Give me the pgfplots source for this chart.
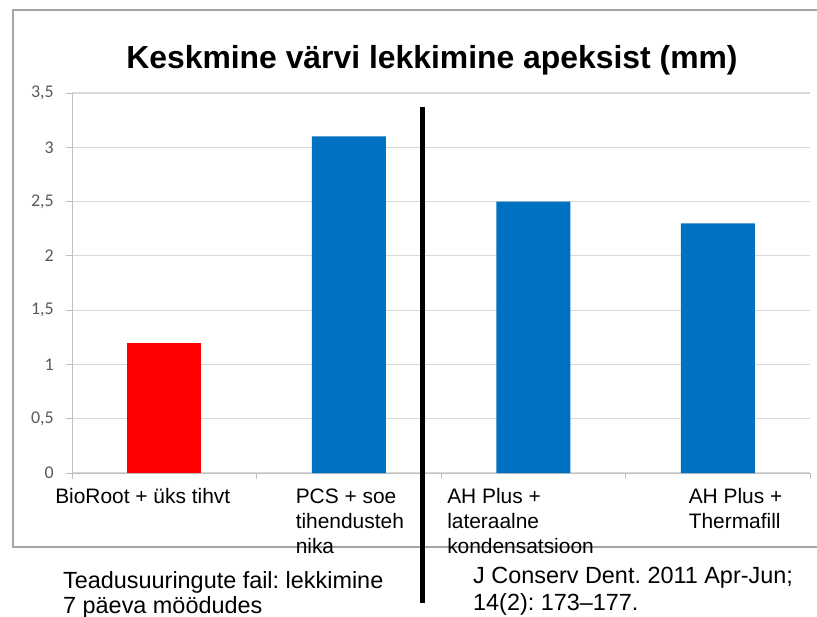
\documentclass[border=0pt]{standalone}
\usepackage{fontspec}
\setmainfont{Liberation Sans}
\newfontfamily\carlito{Carlito}
\usepackage{pgfplots}
\pgfplotsset{compat=1.18}
\frenchspacing
\definecolor{barblue}{HTML}{0070C0}
\definecolor{barred}{HTML}{FF0000}
\definecolor{gridgray}{HTML}{D9D9D9}
\definecolor{axisgray}{HTML}{BFBFBF}
\definecolor{ticktext}{HTML}{595959}
\definecolor{framegray}{HTML}{A6A6A6}
\newcommand{\lab}[2]{\rlap{\hspace*{#1}\begin{tabular}[t]{@{}l@{}}#2\end{tabular}}}
\begin{document}
\begin{tikzpicture}
\useasboundingbox (0,0) rectangle (817bp,-617bp);
\draw[framegray, line width=1.5bp] (13bp,-10bp) rectangle (840bp,-547bp);
\begin{axis}[
  at={(72bp,-473bp)}, anchor=south west,
  scale only axis, width=738bp, height=380bp,
  xmin=-0.5, xmax=3.5, ymin=0, ymax=3.5,
  ytick={0,0.5,1,1.5,2,2.5,3,3.5},
  axis x line*=bottom, axis y line*=left,
  axis line style={axisgray, line width=1bp},
  ymajorgrids, grid style={gridgray, line width=1.2bp},
  tick align=outside, major tick length=6bp,
  tick style={axisgray, line width=1bp},
  xtick={0,1,2,3},
  x tick style={draw=none},
  extra x ticks={-0.5,0.5,1.5,2.5,3.5},
  extra x tick labels={},
  extra x tick style={x tick style={draw=axisgray}, grid=none},
  xticklabels={
    {\lab{-109bp}{BioRoot + üks tihvt}},
    {\lab{-53bp}{PCS + soe\\tihendusteh\\nika}},
    {\lab{-86bp}{AH Plus +\\lateraalne\\kondensatsioon}},
    {\lab{-29bp}{AH Plus +\\Thermafill}}
  },
  xticklabel style={font=\fontsize{21}{25}\selectfont, anchor=north, inner sep=0pt, text=black, yshift=-7bp},
  yticklabel={\pgfmathprintnumber{\tick}},
  yticklabel style={font=\carlito\fontsize{18}{20}\selectfont, text=ticktext, inner sep=0pt, anchor=east, xshift=-12bp},
  /pgf/number format/use comma,
  /pgf/number format/assume math mode=true,
  ybar, bar width=74bp,
]
\addplot[fill=barred, draw=none, bar shift=0pt] coordinates {(0,1.2)};
\addplot[fill=barblue, draw=none, bar shift=0pt] coordinates {(1,3.1) (2,2.5) (3,2.3)};
\end{axis}
\node[anchor=base, font=\bfseries\fontsize{32}{38}\selectfont] at (432bp,-68bp) {Keskmine värvi lekkimine apeksist (mm)};
\draw[black, line width=5bp] (422bp,-107bp) -- (422bp,-603bp);
\node[anchor=base west, inner sep=0pt, font=\fontsize{23.5}{27}\selectfont] at (63bp,-588bp) {Teadusuuringute fail: lekkimine};
\node[anchor=base west, inner sep=0pt, font=\fontsize{23.5}{27}\selectfont] at (63bp,-613bp) {7 päeva möödudes};
\node[anchor=base west, inner sep=0pt, font=\fontsize{23.5}{27}\selectfont] at (473bp,-583bp) {J Conserv Dent. 2011 Apr-Jun;};
\node[anchor=base west, inner sep=0pt, font=\fontsize{23.5}{27}\selectfont] at (473bp,-610bp) {14(2): 173–177.};
\end{tikzpicture}
\end{document}
